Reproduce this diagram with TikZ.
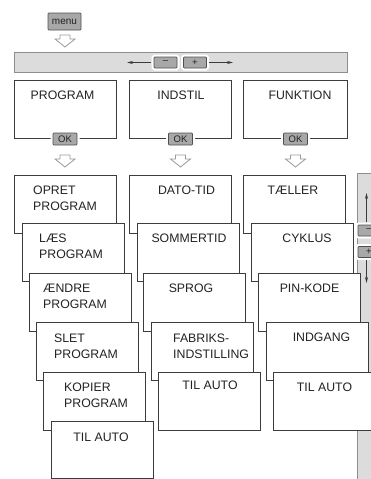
\documentclass[tikz,border=0pt]{standalone}
\usepackage{fontspec}
\setmainfont{Liberation Sans}
\usetikzlibrary{arrows.meta}
\definecolor{cardline}{HTML}{3C3C3C}
\definecolor{barfill}{HTML}{DCDCDC}
\definecolor{barline}{HTML}{8E8E8E}
\definecolor{btnfill}{HTML}{A8A8A8}
\definecolor{btnline}{HTML}{505050}
\definecolor{hollow}{HTML}{9A9A9A}
\definecolor{txt}{HTML}{222222}
\begin{document}
\begin{tikzpicture}[x=1pt,y=-1pt,
 card/.style={draw=cardline,fill=white,line width=0.9pt,minimum width=102.5pt,minimum height=58pt,anchor=north west,inner sep=0pt,outer sep=0pt},
 lbl/.style={font=\fontsize{12.3}{16}\selectfont,align=left,anchor=north west,inner sep=0pt,text=txt},
 clbl/.style={lbl,anchor=north,align=center},
 btn/.style={draw=btnline,fill=btnfill,line width=0.7pt,rounded corners=0.8pt,inner sep=0pt,minimum width=24pt,minimum height=12pt,font=\fontsize{9.5}{10}\selectfont,text=txt},
 halo/.style={preaction={draw=white,line width=5pt}},
 bar/.style={draw=barline,fill=barfill,line width=0.7pt,anchor=north west,inner sep=0pt,outer sep=0pt},
 thinarrow/.style={draw=cardline,line width=0.7pt,-{Stealth[length=6pt,width=3pt]}},
 hollowdown/.pic={\draw[draw=hollow,fill=white,line width=0.8pt,line join=miter] (-5,-6) -- (5,-6) -- (5,-2) -- (10,-2) -- (0,6) -- (-10,-2) -- (-5,-2) -- cycle;}
]
\useasboundingbox (0,0) rectangle (371,479);
\clip (0,0) rectangle (371,479);

% menu button and first arrow
\node[btn,minimum width=33pt,minimum height=17pt,font=\fontsize{10}{11}\selectfont] (menu) at (64.5,21.5) {menu};
\pic at (65,41) {hollowdown};

% horizontal bar
\node[bar,minimum width=333pt,minimum height=20pt] (hbar) at (14,52) {};
\node[btn,halo,minimum width=23pt,minimum height=11pt] (hminus) at (165.5,62.5) {–};
\node[btn,halo,minimum width=23pt,minimum height=11pt] (hplus) at (195,62.5) {+};
\coordinate (hleft) at (127,62.5);
\coordinate (hright) at (233,62.5);
\draw[thinarrow] ([xshift=-2.5pt]hminus.west) -- (hleft);
\draw[thinarrow] ([xshift=2.5pt]hplus.east) -- (hright);

% vertical bar
\node[bar,minimum width=30pt,minimum height=320pt] (vbar) at (357,173) {};
\node[btn,halo,minimum width=22pt,minimum height=11pt] (vminus) at (369,230.5) {–};
\node[btn,halo,minimum width=22pt,minimum height=11pt] (vplus) at (369,252) {+};
\coordinate (vup) at (366.5,193);
\coordinate (vdown) at (366.5,283);
\draw[thinarrow] (vup |- vminus.north) ++(0,-2.5) -- (vup);
\draw[thinarrow] (vdown |- vplus.south) ++(0,2.5) -- (vdown);

% top boxes
\node[card] (prog) at (14,80) {};
\node[card] (indstil) at (129,80) {};
\node[card,minimum width=104pt] (funktion) at (243,80) {};
\node[clbl] (tprog) at (62.5,90.6) {PROGRAM};
\node[clbl] (tindstil) at (181,90.6) {INDSTIL};
\node[clbl] (tfunktion) at (300,90.6) {FUNKTION};
\node[btn,halo] (ok1) at (65,139) {OK};
\node[btn,halo] (ok2) at (180.5,139) {OK};
\node[btn,halo] (ok3) at (295.5,139) {OK};
\pic at (65,161) {hollowdown};
\pic at (180.5,161) {hollowdown};
\pic at (295.5,161) {hollowdown};

% column 1
\node[card] (opret) at (14,175) {};
\node[lbl] (topret) at (33,185.6) {OPRET\\PROGRAM};
\node[card] (laes) at (22,223) {};
\node[lbl] (tlaes) at (39,233.6) {LÆS\\PROGRAM};
\node[card] (aendre) at (29,273) {};
\node[lbl] (taendre) at (43,283.6) {ÆNDRE\\PROGRAM};
\node[card] (slet) at (36,322) {};
\node[lbl] (tslet) at (54,333.6) {SLET\\PROGRAM};
\node[card] (kopier) at (43,372) {};
\node[lbl] (tkopier) at (64,382.6) {KOPIER\\PROGRAM};
\node[card,minimum height=57pt] (auto1) at (51,421) {};
\node[clbl] (tauto1) at (101,432.6) {TIL AUTO};

% column 2
\node[card] (dato) at (129,175) {};
\node[clbl] (tdato) at (186.5,185.6) {DATO-TID};
\node[card] (sommer) at (137,223) {};
\node[clbl] (tsommer) at (189,233.6) {SOMMERTID};
\node[card] (sprog) at (143,273) {};
\node[clbl] (tsprog) at (191,283.6) {SPROG};
\node[card] (fabriks) at (151,322) {};
\node[lbl] (tfabriks) at (173,333.6) {FABRIKS-\\INDSTILLING};
\node[card] (auto2) at (158,372) {};
\node[clbl] (tauto2) at (210,380.6) {TIL AUTO};

% column 3
\node[card] (taeller) at (243,175) {};
\node[clbl] (ttaeller) at (293,185.6) {TÆLLER};
\node[card] (cyklus) at (251,223) {};
\node[clbl] (tcyklus) at (307,233.6) {CYKLUS};
\node[card] (pin) at (258,273) {};
\node[clbl] (tpin) at (309.5,283.6) {PIN-KODE};
\node[card] (indgang) at (266,322) {};
\node[clbl] (tindgang) at (321.5,332.6) {INDGANG};
\node[card] (auto3) at (273,372) {};
\node[clbl] (tauto3) at (324.5,382.6) {TIL AUTO};
\end{tikzpicture}
\end{document}
